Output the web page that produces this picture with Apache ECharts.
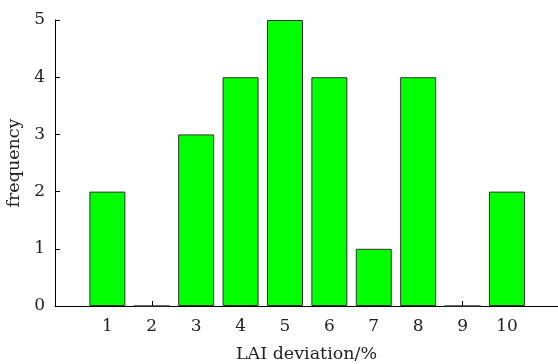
<!DOCTYPE html>
<html>
<head>
<meta charset="utf-8">
<script src="https://cdn.jsdelivr.net/npm/echarts@6/dist/echarts.min.js"></script>
<style>
  html, body { margin: 0; padding: 0; background: #fff; }
  #chart { width: 558px; height: 364px; }
</style>
</head>
<body>
<div id="chart"></div>
<script>
// deviation bins and counts
const bins = [1, 2, 3, 4, 5, 6, 7, 8, 9, 10];
const counts = [2, 0, 3, 4, 5, 4, 1, 4, 0, 2];
const yTicks = [0, 1, 2, 3, 4, 5];

const FONT = 'DejaVu Serif, Liberation Serif, serif';

const chart = echarts.init(document.getElementById('chart'));

chart.setOption({
  animation: false,
  grid: { left: 55, right: 0, top: 20, bottom: 58, containLabel: false, outerBoundsMode: 'none' },
  xAxis: {
    type: 'value',
    min: -0.18,
    max: 11.15,
    name: 'LAI deviation/%',
    nameLocation: 'middle',
    nameGap: 39,
    nameTextStyle: { fontFamily: FONT, fontSize: 17.5, color: '#222' },
    splitLine: { show: false },
    axisLine: { onZero: false, lineStyle: { color: '#000', width: 1 } },
    axisTick: { inside: true, length: 5, customValues: bins, lineStyle: { color: '#000' } },
    axisLabel: {
      customValues: bins,
      margin: 12,
      fontFamily: FONT,
      fontSize: 17,
      color: '#222'
    }
  },
  yAxis: {
    type: 'value',
    min: 0,
    max: 5,
    interval: 1,
    name: 'frequency',
    nameLocation: 'middle',
    nameGap: 28,
    nameRotate: 90,
    nameTextStyle: { fontFamily: FONT, fontSize: 17.5, color: '#222' },
    splitLine: { show: false },
    axisLine: { show: true, onZero: false, lineStyle: { color: '#000', width: 1 } },
    axisTick: { show: true, inside: true, length: 5, lineStyle: { color: '#000' } },
    axisLabel: {
      customValues: yTicks,
      margin: 10,
      fontFamily: FONT,
      fontSize: 17,
      color: '#222'
    }
  },
  series: [{
    type: 'bar',
    barWidth: 36,
    data: bins.map((b, i) => [b, counts[i]]),
    itemStyle: {
      color: '#00ff00',
      borderColor: '#333',
      borderWidth: 1
    }
  }]
});
</script>
</body>
</html>
